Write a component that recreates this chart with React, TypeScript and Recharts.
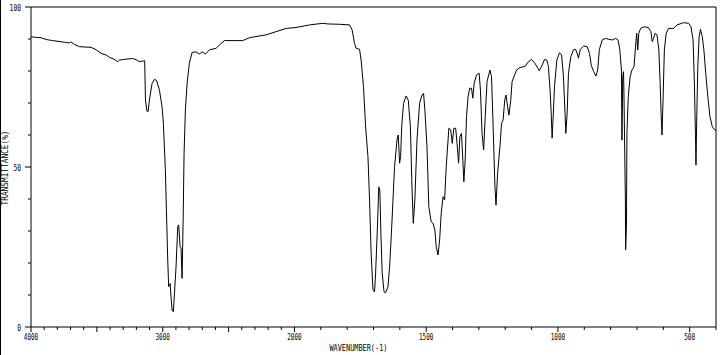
import React from 'react';
import { LineChart, Line, XAxis, YAxis, ReferenceLine } from 'recharts';

// Wavenumbers (cm-1) and transmittance (%)
const wavenumbers: number[] = [
  4000, 3960, 3924, 3880, 3836, 3780, 3740, 3709, 3698, 3670, 3633, 3590, 3544, 3500, 3468, 3430,
  3405, 3370, 3342, 3329, 3280, 3228, 3200, 3177, 3137, 3131, 3120, 3111, 3101, 3081, 3063, 3046,
  3025, 3005, 2995, 2980, 2972, 2962, 2955, 2944, 2937, 2929, 2919, 2911, 2899, 2886, 2879, 2868,
  2861, 2853, 2845, 2838, 2828, 2815, 2798, 2777, 2747, 2722, 2701, 2676, 2646, 2595, 2557, 2532,
  2393, 2342, 2215, 2139, 2063, 1994, 1943, 1892, 1873, 1829, 1791, 1781, 1772, 1766, 1753, 1747,
  1738, 1730, 1721, 1715, 1709, 1702, 1696, 1692, 1686, 1680, 1676, 1672, 1667, 1660, 1654, 1645,
  1639, 1632, 1626, 1620, 1611, 1606, 1601, 1597, 1593, 1586, 1576, 1568, 1560, 1554, 1549, 1543,
  1535, 1525, 1516, 1510, 1505, 1497, 1490, 1481, 1474, 1467, 1462, 1455, 1449, 1443, 1436, 1430,
  1424, 1417, 1414, 1407, 1401, 1395, 1388, 1383, 1377, 1372, 1366, 1361, 1357, 1352, 1347, 1341,
  1335, 1328, 1323, 1318, 1309, 1299, 1294, 1288, 1282, 1276, 1269, 1258, 1252, 1246, 1239, 1235,
  1229, 1220, 1214, 1208, 1202, 1197, 1191, 1186, 1179, 1174, 1167, 1157, 1144, 1125, 1112, 1100,
  1087, 1071, 1061, 1051, 1042, 1036, 1029, 1025, 1022, 1018, 1013, 1004, 994, 986, 979, 973,
  970, 965, 960, 951, 941, 933, 925, 922, 915, 902, 889, 880, 873, 864, 856, 849,
  843, 832, 819, 807, 794, 781, 772, 765, 759, 757, 754, 751, 749, 744, 743, 740,
  738, 733, 726, 719, 711, 704, 701, 697, 693, 686, 673, 657, 647, 642, 637, 631,
  624, 617, 612, 608, 605, 601, 596, 589, 580, 561, 548, 523, 504, 495, 487, 482,
  478, 476, 473, 469, 464, 459, 452, 446, 439, 431, 423, 414, 405, 400,
];

const transmittance: number[] = [
  90.7, 90.5, 90.4, 89.8, 89.5, 89.2, 88.9, 88.8, 89.1, 88.3, 87.6, 87.5, 87.4, 86.5, 85.5, 85.0,
  84.3, 83.7, 82.9, 83.4, 83.7, 83.9, 83.5, 82.9, 83.2, 70.9, 67.5, 67.3, 70.9, 76.1, 77.4, 77.0,
  74.0, 68.8, 63.6, 49.1, 36.6, 20.9, 12.6, 13.6, 9.5, 5.3, 4.8, 10.5, 18.8, 31.3, 31.9, 25.1,
  24.7, 15.2, 33.4, 54.3, 67.8, 76.1, 82.4, 85.8, 86.0, 85.3, 86.0, 85.3, 86.6, 87.1, 88.6, 89.5,
  89.5, 90.4, 91.3, 92.3, 93.3, 93.6, 94.4, 94.9, 94.7, 94.6, 94.4, 92.8, 88.6, 87.1, 86.8, 83.4,
  75.1, 62.6, 53.2, 39.7, 23.0, 11.6, 11.0, 16.8, 29.3, 43.8, 42.8, 29.3, 16.8, 11.0, 10.7, 12.6,
  18.8, 29.3, 39.7, 50.1, 58.4, 60.0, 51.2, 53.2, 62.6, 69.9, 72.2, 70.9, 62.6, 43.8, 32.4, 39.7,
  58.4, 69.9, 72.5, 73.0, 67.8, 56.4, 37.6, 32.9, 32.4, 30.3, 25.1, 22.5, 27.2, 35.5, 40.7, 39.7,
  50.1, 58.4, 62.1, 61.6, 57.4, 62.1, 62.1, 57.4, 51.2, 59.5, 60.5, 52.2, 45.4, 52.2, 65.7, 72.0,
  74.6, 74.6, 71.5, 76.1, 78.8, 79.3, 74.0, 60.5, 55.3, 65.7, 76.7, 80.3, 78.2, 62.6, 43.8, 38.1,
  48.0, 56.4, 63.6, 64.7, 70.9, 72.5, 68.8, 66.2, 70.9, 76.7, 78.2, 80.3, 81.1, 81.4, 82.9, 83.6,
  82.4, 80.1, 81.6, 83.6, 83.4, 81.4, 73.0, 65.7, 59.0, 65.7, 75.1, 83.4, 85.7, 85.0, 78.2, 66.8,
  60.5, 66.8, 79.3, 84.5, 86.6, 86.8, 85.0, 84.0, 86.8, 87.8, 87.6, 85.5, 81.6, 79.8, 78.4, 80.3,
  86.6, 89.7, 90.2, 89.9, 89.7, 90.2, 89.7, 86.6, 80.3, 58.4, 78.2, 79.8, 70.9, 39.7, 24.1, 31.3,
  60.5, 72.0, 78.2, 80.3, 81.4, 89.2, 91.8, 86.6, 91.8, 93.3, 93.8, 93.6, 92.3, 89.2, 90.2, 91.8,
  91.3, 86.6, 76.1, 65.7, 60.0, 70.9, 86.6, 91.8, 93.3, 93.3, 94.4, 95.1, 94.9, 93.8, 89.7, 76.1,
  60.5, 50.6, 65.7, 81.4, 90.7, 93.0, 90.7, 86.6, 79.3, 72.0, 65.7, 62.6, 61.6, 61.3,
];

const xTickValues: number[] = [
  4000, 3900, 3800, 3700, 3600, 3500, 3400, 3300, 3200, 3100, 3000, 2900, 2800, 2700, 2600, 2500,
  2400, 2300, 2200, 2100, 2000, 1900, 1800, 1700, 1600, 1500, 1400, 1300, 1200, 1100, 1000, 900,
  800, 700, 600, 500, 400,
];
const xTickLabels: number[] = [4000, 3000, 2000, 1500, 1000, 500];
const yTickValues: number[] = [0, 10, 20, 30, 40, 50, 60, 70, 80, 90, 100];
const yTickLabels: number[] = [0, 50, 100];
const xTitle = 'WAVENUMBER(-1)';
const yTitle = 'TRANSMITTANCE(%)';

// IR charts switch scale at 2000 cm-1: below 2000 each cm-1 takes twice the width.
const toX = (wn: number) => (wn >= 2000 ? (4000 - wn) / 2 : 1000 + (2000 - wn));
const fromX = (x: number) => (x <= 1000 ? 4000 - 2 * x : 2000 - (x - 1000));

const data = wavenumbers.map((wn, i) => ({ x: toX(wn), t: transmittance[i] }));
const xTicks = xTickValues.map(toX);

const FONT = '"DejaVu Sans Mono", monospace';

const XTick = (props: any) => {
  const { x, y, payload } = props;
  const wn = Math.round(fromX(payload.value));
  const major = wn % 500 === 0;
  const labelled = xTickLabels.includes(wn);
  const text = String(wn);
  return (
    <g>
      <line x1={x} x2={x} y1={y} y2={y + (major ? 5 : 3)} stroke="#000" strokeWidth={1} />
      {labelled && (
        <text
          x={x}
          y={y + 13}
          textAnchor="middle"
          fontFamily={FONT}
          fontSize={9}
          fill="#000"
          textLength={text.length * 3.6}
          lengthAdjust="spacingAndGlyphs"
        >
          {text}
        </text>
      )}
    </g>
  );
};

const YTick = (props: any) => {
  const { x, y, payload } = props;
  const v = payload.value;
  const labelled = yTickLabels.includes(v);
  const text = String(v);
  return (
    <g>
      <line x1={x - (labelled ? 6 : 3)} x2={x} y1={y} y2={y} stroke="#000" strokeWidth={1} />
      {labelled && (
        <text
          x={x - 10}
          y={y + 3.5}
          textAnchor="end"
          fontFamily={FONT}
          fontSize={9}
          fill="#000"
          textLength={text.length * 3.8}
          lengthAdjust="spacingAndGlyphs"
        >
          {text}
        </text>
      )}
    </g>
  );
};

const XTitle = (props: any) => {
  const vb = props.viewBox || {};
  return (
    <text
      x={vb.x + vb.width * 0.478}
      y={vb.y + 24}
      textAnchor="middle"
      fontFamily={FONT}
      fontSize={8}
      fill="#000"
      textLength={58}
      lengthAdjust="spacingAndGlyphs"
    >
      {xTitle}
    </text>
  );
};

const YTitle = (props: any) => {
  const vb = props.viewBox || {};
  const cx = vb.x + 8;
  const cy = vb.y + vb.height * 0.503;
  return (
    <text
      x={cx}
      y={cy}
      transform={`rotate(-90 ${cx} ${cy})`}
      textAnchor="middle"
      fontFamily={FONT}
      fontSize={8}
      fill="#000"
      textLength={75}
      lengthAdjust="spacingAndGlyphs"
    >
      {yTitle}
    </text>
  );
};

export default function App() {
  return (
    <div style={{ position: 'absolute', left: 0, top: 0, width: 724, height: 355, background: '#fff' }}>
      <div style={{ position: 'absolute', left: 0, top: 0, width: 1, height: 355, background: '#000' }} />
      <LineChart width={724} height={355} data={data} margin={{ top: 7, right: 8, bottom: 0, left: 0 }}>
        <XAxis
          dataKey="x"
          type="number"
          domain={[0, 2600]}
          ticks={xTicks}
          interval={0}
          allowDataOverflow
          height={28}
          tickLine={false}
          tickSize={0}
          tickMargin={0}
          axisLine={{ stroke: '#000', strokeWidth: 1 }}
          tick={<XTick />}
          label={<XTitle />}
        />
        <YAxis
          type="number"
          domain={[0, 100]}
          ticks={yTickValues}
          interval={0}
          width={31}
          tickLine={false}
          tickSize={0}
          tickMargin={0}
          axisLine={{ stroke: '#000', strokeWidth: 1 }}
          tick={<YTick />}
          label={<YTitle />}
        />
        <ReferenceLine y={100} stroke="#000" strokeWidth={1} ifOverflow="visible" />
        <ReferenceLine x={2600} stroke="#000" strokeWidth={1} ifOverflow="visible" />
        <Line
          type="linear"
          dataKey="t"
          stroke="#000"
          strokeWidth={1}
          dot={false}
          isAnimationActive={false}
        />
      </LineChart>
    </div>
  );
}
